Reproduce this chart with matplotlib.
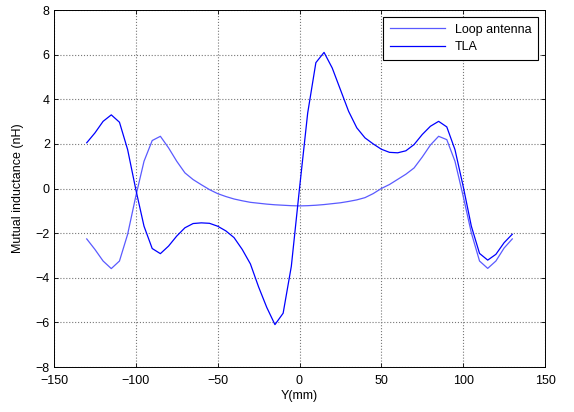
import numpy as np
import matplotlib
matplotlib.use("Agg")
import matplotlib.pyplot as plt

plt.rcParams["font.family"] = ["Liberation Sans", "DejaVu Sans"]

# posicoes Y (mm), passo de 5 mm
y_mm = list(range(-130, 135, 5))

loop_antenna = [
    -2.26, -2.73, -3.25, -3.59, -3.25, -2.05, -0.34, 1.22, 2.15, 2.34,
    1.82, 1.22, 0.70, 0.40, 0.17, -0.05, -0.23, -0.36, -0.47, -0.55,
    -0.62, -0.66, -0.70, -0.73, -0.75, -0.77, -0.78, -0.77, -0.75, -0.72,
    -0.68, -0.64, -0.58, -0.51, -0.41, -0.23, 0.0, 0.18, 0.41, 0.64,
    0.92, 1.41, 1.95, 2.34, 2.19, 1.22, -0.34, -1.99, -3.25, -3.58,
    -3.25, -2.67, -2.26,
]

tla = [
    2.05, 2.49, 3.01, 3.30, 2.97, 1.74, -0.05, -1.69, -2.69, -2.92,
    -2.58, -2.13, -1.76, -1.57, -1.54, -1.56, -1.69, -1.90, -2.20, -2.73,
    -3.38, -4.41, -5.33, -6.10, -5.59, -3.49, 0.0, 3.38, 5.64, 6.10,
    5.40, 4.43, 3.46, 2.72, 2.27, 2.00, 1.76, 1.62, 1.60, 1.69,
    1.97, 2.42, 2.79, 3.01, 2.76, 1.74, 0.10, -1.69, -2.91, -3.21,
    -2.95, -2.43, -2.05,
]

x_ticks = [-150, -100, -50, 0, 50, 100, 150]
y_ticks = [-8, -6, -4, -2, 0, 2, 4, 6, 8]

fig = plt.figure(figsize=(5.74, 4.12), dpi=100)
ax = fig.add_axes([54 / 574, 1 - 367 / 412, (545 - 54) / 574, (367 - 10) / 412])

ax.plot(y_mm, loop_antenna, color="#5a5aff", linewidth=0.9, label="Loop antenna")
ax.plot(y_mm, tla, color="#0000ff", linewidth=0.9, label="TLA")

ax.set_xlim(-150, 150)
ax.set_ylim(-8, 8)
ax.set_xticks(x_ticks)
ax.set_yticks(y_ticks)
ax.tick_params(direction="in", top=True, right=True, labelsize=9, length=3, width=0.6)
ax.tick_params(axis="x", pad=6)
ax.tick_params(axis="y", pad=3)
ax.grid(True, color="#777777", linestyle=":", linewidth=0.8)
for lado in ax.spines.values():
    lado.set_linewidth(0.7)

ax.set_xlabel("Y(mm)", fontsize=9, labelpad=2)
ax.set_ylabel("Mutual inductance (nH)", fontsize=9, labelpad=8)

leg = ax.legend(loc="upper right", fontsize=9, fancybox=False, framealpha=1,
                edgecolor="black", borderaxespad=0.55, handlelength=4.4,
                borderpad=0.55, labelspacing=0.45)
leg.get_frame().set_linewidth(0.8)

fig.savefig("out.png", dpi=100)
